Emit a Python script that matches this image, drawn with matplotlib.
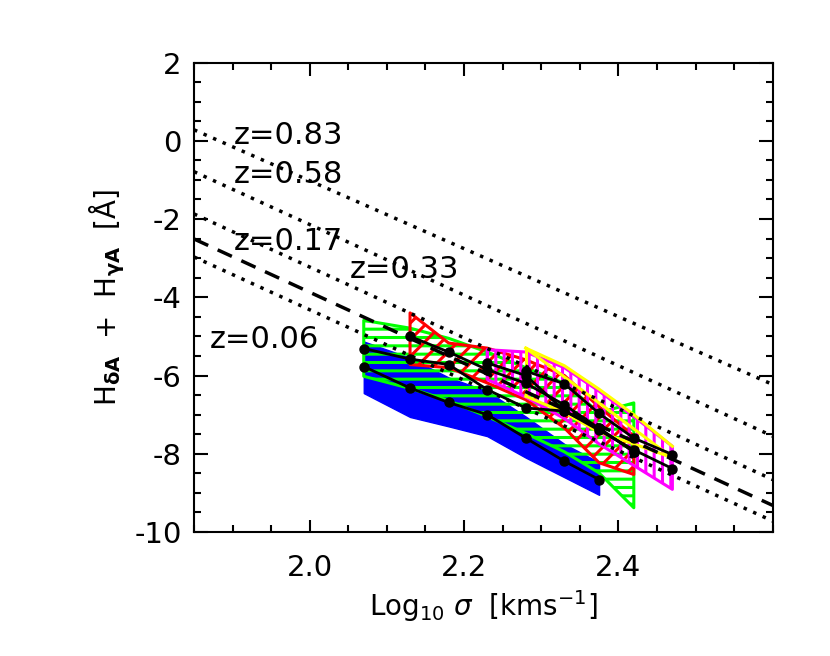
import numpy as np
import matplotlib
matplotlib.use("Agg")
import matplotlib.pyplot as plt
from matplotlib.ticker import MultipleLocator, FixedLocator

plt.rcParams['font.family'] = ['DejaVu Sans']
plt.rcParams['axes.unicode_minus'] = False
plt.rcParams['hatch.linewidth'] = 2.2

# ---- data ----
sigma_bins = [2.07, 2.13, 2.18, 2.23, 2.28, 2.33, 2.375, 2.42, 2.47]

# z=0.06 (blue, solid)
blue_x = sigma_bins[0:7]
blue_med = [-5.77, -6.32, -6.69, -7.00, -7.60, -8.19, -8.66]
blue_lo = [-6.45, -7.06, -7.30, -7.55, -8.10, -8.60, -9.05]
blue_hi = [-5.13, -5.55, -6.05, -6.40, -7.05, -7.75, -8.22]

# z=0.17 (green, horizontal hatch)
green_x = sigma_bins[0:8]
green_med = [-5.31, -5.58, -5.72, -6.36, -6.83, -6.91, -7.35, -7.95]
green_lo = [-6.02, -6.33, -6.64, -7.05, -7.48, -7.95, -8.49, -9.38]
green_hi = [-4.59, -4.79, -5.05, -5.40, -5.80, -6.20, -6.95, -6.70]

# z=0.33 (red, diagonal hatch)
red_x = sigma_bins[1:8]
red_med = [-5.00, -5.40, -5.85, -6.20, -6.75, -7.35, -7.95]
red_lo = [-5.72, -5.80, -6.19, -6.62, -7.34, -8.23, -8.53]
red_hi = [-4.40, -5.17, -5.30, -5.60, -6.00, -6.80, -7.55]

# z=0.58 (magenta, vertical hatch)
mag_x = sigma_bins[3:9]
mag_med = [-5.68, -6.00, -6.90, -7.40, -7.90, -8.38]
mag_lo = [-6.10, -6.55, -7.10, -7.75, -8.30, -8.91]
mag_hi = [-5.34, -5.40, -5.80, -6.40, -7.05, -7.81]

# z=0.83 (yellow, outline)
yel_x = sigma_bins[4:9]
yel_med = [-5.89, -6.21, -6.97, -7.60, -8.02]
yel_lo = [-6.53, -6.95, -7.45, -7.75, -8.10]
yel_hi = [-5.30, -5.75, -6.35, -7.00, -7.81]

# model tracks (values at x = 1.85 and x = 2.6)
track_x = [1.85, 2.60]
track_083 = [0.28, -6.23]
track_058 = [-0.79, -7.55]
track_017 = [-1.87, -8.66]
track_dash = [-2.51, -9.32]
track_006 = [-2.97, -9.72]

labels = ['z=0.83', 'z=0.58', 'z=0.17', 'z=0.33', 'z=0.06']
label_x = [1.901, 1.901, 1.901, 2.052, 1.871]
label_y = [-0.09, -1.08, -2.79, -3.51, -5.30]

# ---- figure ----
fig = plt.figure(figsize=(8.30, 6.56), dpi=100)
ax = fig.add_axes([194/830, 1-532/656, (772.7-194)/830, (532-62.5)/656])

ax.fill_between(blue_x, blue_lo, blue_hi, facecolor='#0000ff', edgecolor='#0000ff', lw=1)
ax.fill_between(green_x, green_lo, green_hi, facecolor='none', edgecolor='#00ff00',
                hatch='--', lw=2.2)
ax.fill_between(red_x, red_lo, red_hi, facecolor='none', edgecolor='#ff0000',
                hatch='//', lw=2.2)
ax.fill_between(mag_x, mag_lo, mag_hi, facecolor='none', edgecolor='#ff00ff',
                hatch='||', lw=2.2)
ax.plot(yel_x, yel_hi, color='#ffff00', lw=2.2)
ax.plot(yel_x, yel_lo, color='#ffff00', lw=2.2)
ax.plot([yel_x[0], yel_x[-1]], [yel_hi[0], yel_lo[-1]], color='#ffff00', lw=2.2)
ax.plot([yel_x[0], yel_x[0]], [yel_hi[0], yel_lo[0]], color='#ffff00', lw=2.2)

for xs, ys in [(blue_x, blue_med), (green_x, green_med), (red_x, red_med),
               (mag_x, mag_med), (yel_x, yel_med)]:
    ax.plot(xs, ys, color='k', lw=2, marker='o', ms=6.5, zorder=5)

for ys in [track_083, track_058, track_017, track_006]:
    ax.plot(track_x, ys, color='k', lw=2.5, ls=(0, (1, 2)), zorder=4)
ax.plot(track_x, track_dash, color='k', lw=2.5, ls=(0, (4.5, 3)), zorder=4)

for t, x, y in zip(labels, label_x, label_y):
    ax.text(x, y, t, fontsize=22, ha='left', va='baseline')

ax.set_xlim(1.85, 2.6)
ax.set_ylim(-10, 2)
ax.xaxis.set_major_locator(FixedLocator([2.0, 2.2, 2.4]))
ax.xaxis.set_minor_locator(MultipleLocator(0.05))
ax.yaxis.set_major_locator(MultipleLocator(2))
ax.yaxis.set_minor_locator(MultipleLocator(0.5))
ax.xaxis.set_major_formatter(matplotlib.ticker.FormatStrFormatter('%.1f'))
ax.tick_params(which='both', direction='in', top=True, right=True, width=1.5,
               labelsize=21)
ax.tick_params(axis='x', which='major', length=9, pad=16)
ax.tick_params(axis='y', which='major', length=10, pad=9)
ax.tick_params(which='minor', length=5)
for s in ax.spines.values():
    s.set_linewidth(1.5)

ax.set_xlabel(r'Log$_{10}$ $\sigma$  [kms$^{-1}$]', fontsize=20, labelpad=4)
ax.set_ylabel(r'H$_{\mathbf{\delta A}}$  +  H$_{\mathbf{\gamma A}}$  [Å]', fontsize=20, labelpad=5)

fig.savefig('out.png', dpi=100)
